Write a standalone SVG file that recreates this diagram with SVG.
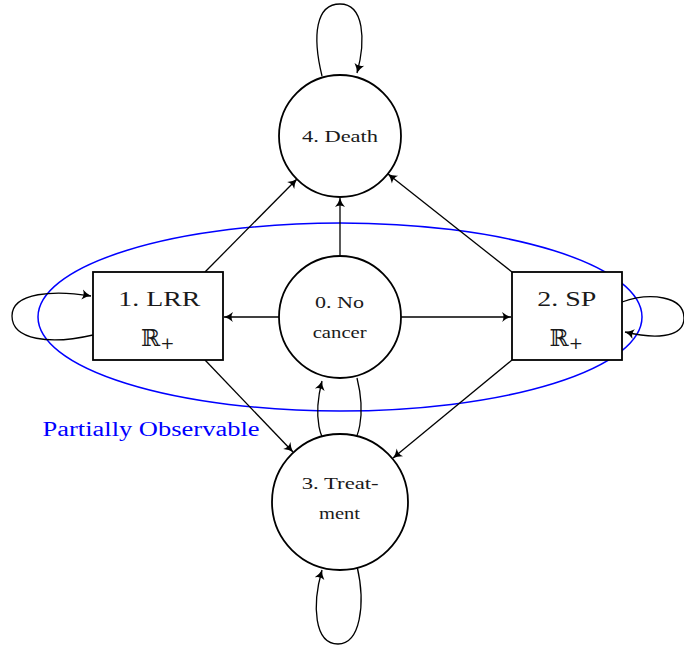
<svg xmlns="http://www.w3.org/2000/svg" width="684" height="648" viewBox="0 0 684 648">
<style>
.node{fill:#fff;stroke:#000;stroke-width:1.8}
.edge{fill:none;stroke:#000;stroke-width:1.3;marker-end:url(#arr)}
.t{font-family:"Liberation Serif","DejaVu Serif",serif;fill:#1a1a1a}
.s{font-size:16px}
.b{font-size:21px}
.r{font-family:"DejaVu Serif","DejaVu Sans",serif;font-size:23px;fill:#1a1a1a}
.po{fill:none;stroke:#0000ff;stroke-width:1.5}
</style>
<defs>
<marker id="arr" viewBox="-11 -6 12 12" refX="0" refY="0" markerWidth="12" markerHeight="12" markerUnits="userSpaceOnUse" orient="auto">
<path d="M0,0 Q-4.5,-1.2 -9,-5 Q-6,0 -9,5 Q-4.5,1.2 0,0 Z" fill="#000"/>
</marker>
</defs>
<ellipse class="po" cx="340" cy="317" rx="302" ry="94"/>
<text x="42.5" y="436" font-family="Liberation Serif,DejaVu Serif,serif" font-size="20.5" fill="#0000ff" textLength="217" lengthAdjust="spacingAndGlyphs">Partially Observable</text>
<g id="connectors">
<line class="edge" x1="340" y1="256" x2="340" y2="198"/>
<line class="edge" x1="279" y1="317" x2="224" y2="317"/>
<line class="edge" x1="401" y1="317" x2="511" y2="317"/>
<line class="edge" x1="205" y1="272" x2="297" y2="179"/>
<line class="edge" x1="512" y1="272" x2="388" y2="174"/>
<line class="edge" x1="205" y1="360" x2="293" y2="452"/>
<line class="edge" x1="512" y1="360" x2="393" y2="458"/>
<path class="edge" d="M322,76 C312,35 316,4 340,4 C364,4 366,40 357,73"/>
<path class="edge" d="M93,335 C50,345 12,340 12,316 C12,292 55,290 91,296"/>
<path class="edge" d="M622,302 C650,292 684,296 684,318 C684,340 650,338 625,332"/>
<path class="edge" d="M357,566 C366,605 360,644 338,644 C314,644 312,605 322,570"/>
<path class="edge" d="M357,378 C365,410 362,449 340,449 C316,449 314,412 322,381"/>
</g>
<g id="n4"><circle class="node" cx="340" cy="136" r="61"/><text class="t s" x="302" y="141.5" textLength="76" lengthAdjust="spacingAndGlyphs">4. Death</text></g>
<g id="n0"><circle class="node" cx="340" cy="317" r="61"/><text class="t s" x="315" y="308" textLength="49" lengthAdjust="spacingAndGlyphs">0. No</text><text class="t s" x="312.7" y="338" textLength="54" lengthAdjust="spacingAndGlyphs">cancer</text></g>
<g id="n1"><rect class="node" x="93" y="272" width="130" height="88"/><text class="t b" x="118.3" y="305.7" textLength="82" lengthAdjust="spacingAndGlyphs">1. LRR</text><text class="r" x="141" y="346">ℝ<tspan font-size="17" dy="3">+</tspan></text></g>
<g id="n2"><rect class="node" x="512" y="272" width="110" height="88"/><text class="t b" x="537.3" y="305.7" textLength="59" lengthAdjust="spacingAndGlyphs">2. SP</text><text class="r" x="549.5" y="346">ℝ<tspan font-size="17" dy="3">+</tspan></text></g>
<g id="n3"><circle class="node" cx="340" cy="502" r="68"/><text class="t s" x="301.7" y="489" textLength="77" lengthAdjust="spacingAndGlyphs">3. Treat-</text><text class="t s" x="319" y="519" textLength="41" lengthAdjust="spacingAndGlyphs">ment</text></g>
</svg>
